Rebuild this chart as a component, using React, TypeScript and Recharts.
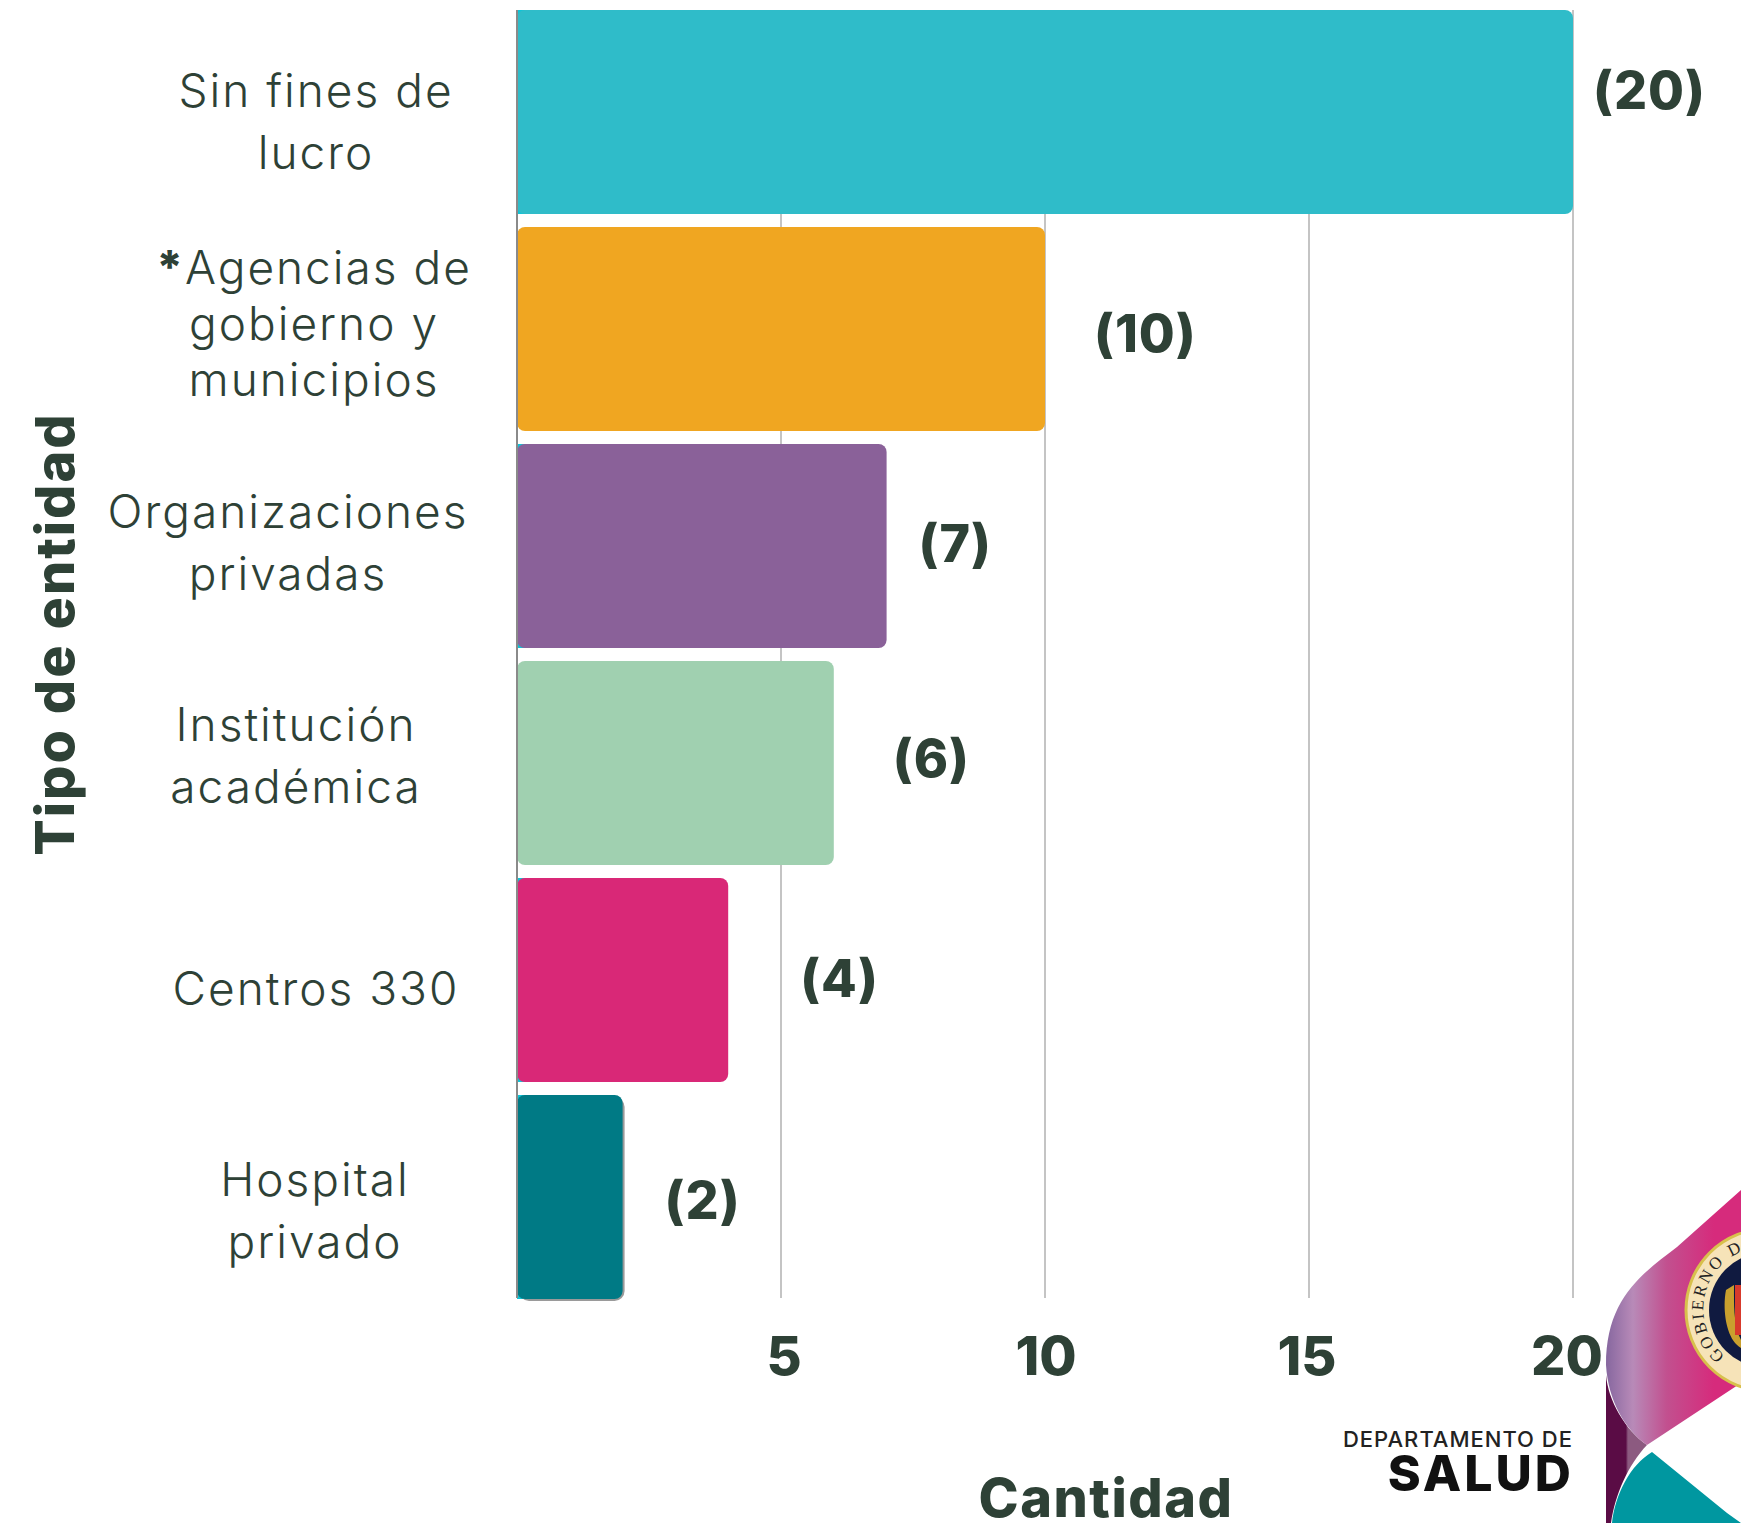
import React from 'react';
import { BarChart, Bar, XAxis, YAxis, CartesianGrid, Cell, LabelList, Label, Rectangle, Customized } from 'recharts';

const categories = ['Sin fines de|lucro', '*Agencias de|gobierno y|municipios', 'Organizaciones|privadas', 'Institución|académica', 'Centros 330', 'Hospital|privado'];
const cantidad = [20, 10, 7, 6, 4, 2];
const barColors = ['#2fbcc9', '#f0a621', '#8a6199', '#a0d0b0', '#d92877', '#007a85'];
const xTicks = [5, 10, 15, 20];

const chartData = categories.map((name, i) => ({ name, cantidad: cantidad[i] }));

const INK = '#2e4136';
const FONT = 'Inter, "Open Sans", sans-serif';

// the original places these by hand, so they don't sit exactly on the bands
const tickNudge = [[-59, 10], [-61, -5], [-87, -3], [-79, -7], [-59, 9], [-60, 14]];
const labelNudge = [[20, -22], [49, 4], [32, -3], [59, -5], [72, -2], [42, 3]];
const xTickNudge = [3, 1, -2, -6];

function CategoryTick({ y, payload, index }: any) {
  const lines: string[] = payload.value.split('|');
  const lineHeight = lines.length > 2 ? 56 : 62;
  const [dx, dy] = tickNudge[index] ?? [0, 0];
  const cx = 375 + dx;
  const startY = y + dy - ((lines.length - 1) * lineHeight) / 2 + 16;
  return (
    <text x={cx} y={startY} textAnchor="middle" fontFamily={FONT} fontWeight={300} fontSize={46} letterSpacing={2} fill={INK}>
      {lines.map((line, i) => (
        <tspan key={line} x={cx} y={startY + i * lineHeight}>
          {line.startsWith('*') ? <><tspan fontWeight={800}>*</tspan>{line.slice(1)}</> : line}
        </tspan>
      ))}
    </text>
  );
}

function ValueTick({ x, y, payload, index }: any) {
  return (
    <text x={x + xTickNudge[index]} y={y + 71} textAnchor="middle" fontFamily={FONT} fontWeight={800} fontSize={54} fill={INK}>
      {payload.value}
    </text>
  );
}

function ValueLabel({ x, y, width, height, value, index }: any) {
  const [dx, dy] = labelNudge[index];
  return (
    <text x={x + width + dx} y={y + height / 2 + dy + 19} fontFamily={FONT} fontWeight={800} fontSize={52} letterSpacing={1} fill={INK}>
      ({value})
    </text>
  );
}

function RoundedBar(props: any) {
  const { x, y, width, height, fill, index } = props;
  return (
    <g>
      {index !== 1 && index !== 3 && <rect x={x} y={y} width={10} height={height} fill="#10c4d6" />}
      {index === 5 && <Rectangle x={x + 2} y={y + 2} width={width} height={height} radius={10} fill="#9a9a9a" />}
      <Rectangle x={x} y={y} width={width} height={height} radius={8} fill={fill} />
    </g>
  );
}

function Logo() {
  return (
    <g>
      <defs>
        <linearGradient id="ribbon" x1="1606" x2="1741" y1="0" y2="0" gradientUnits="userSpaceOnUse">
          <stop offset="0" stopColor="#86679f" />
          <stop offset="0.2" stopColor="#b88ab8" />
          <stop offset="0.45" stopColor="#c2508f" />
          <stop offset="0.8" stopColor="#d62b7c" />
        </linearGradient>
        <linearGradient id="fold" x1="1606" x2="1650" y1="0" y2="0" gradientUnits="userSpaceOnUse">
          <stop offset="0.45" stopColor="#5a0c45" />
          <stop offset="0.5" stopColor="#8c5a80" />
          <stop offset="1" stopColor="#8c5a80" />
        </linearGradient>
        <path id="sealArc" d="M1725 1356 A62 62 0 0 1 1800 1257.5" fill="none" />
      </defs>
      <path d="M1606 1375 L1606 1523 L1611 1523 C1615 1495 1628 1465 1647 1445 C1625 1430 1608 1400 1606 1375 Z" fill="url(#fold)" />
      <path d="M1741 1190 L1677 1247 C1640 1275 1606 1300 1606 1365 C1608 1400 1625 1430 1647 1445 L1741 1383 Z" fill="url(#ribbon)" />
      <path d="M1652 1452 C1630 1465 1615 1495 1612 1523 L1741 1523 L1727 1513 Z" fill="#0097a0" />
      <circle cx="1767" cy="1310" r="81" fill="#f6e3b8" stroke="#d8c04c" strokeWidth="3" />
      <circle cx="1767" cy="1310" r="58" fill="#101a40" />
      <text fontFamily="'Liberation Serif', serif" fontSize="17" fill="#222" letterSpacing="2.5">
        <textPath href="#sealArc">GOBIERNO DE</textPath>
      </text>
      <path d="M1726 1290 C1722 1310 1726 1345 1746 1350 L1741 1340 C1733 1325 1734 1300 1734 1285 Z" fill="#c9a02e" />
      <rect x="1735" y="1285" width="6" height="50" fill="#d83a2c" />
      <text x="1573" y="1447" textAnchor="end" fontFamily={FONT} fontWeight={500} fontSize={22} letterSpacing={1} fill="#222">DEPARTAMENTO DE</text>
      <text x="1574" y="1491" textAnchor="end" fontFamily={FONT} fontWeight={800} fontSize={50} letterSpacing={3} fill="#111">SALUD</text>
    </g>
  );
}

export default function App() {
  return (
    <div style={{ position: 'absolute', left: 0, top: 0, width: 1741, height: 1523, overflow: 'hidden', background: '#fff' }}>
      <BarChart
        width={1741}
        height={1523}
        data={chartData}
        layout="vertical"
        margin={{ top: 10, right: 168, bottom: 0, left: 0 }}
        barSize={204}
      >
        <CartesianGrid horizontal={false} stroke="#c4c4c4" strokeWidth={2} verticalValues={xTicks} />
        <XAxis
          type="number"
          domain={[0, 20]}
          ticks={xTicks}
          height={225}
          axisLine={false}
          tickLine={false}
          tickMargin={0}
          tick={<ValueTick />}
        >
          <Label
            value="Cantidad"
            position="insideBottom"
            offset={6}
            dx={61}
            style={{ fontFamily: FONT, fontWeight: 800, fontSize: 54, letterSpacing: 1.5, fill: INK }}
          />
        </XAxis>
        <YAxis
          type="category"
          dataKey="name"
          width={517}
          interval={0}
          padding={{ top: -7, bottom: -7 }}
          axisLine={{ stroke: '#8a8a8a', strokeWidth: 2 }}
          tickLine={false}
          tick={<CategoryTick />}
        >
          <Label
            value="Tipo de entidad"
            angle={-90}
            position="insideLeft"
            offset={55}
            dy={-20}
            style={{ textAnchor: 'middle', fontFamily: FONT, fontWeight: 800, fontSize: 54, letterSpacing: 2, fill: INK }}
          />
        </YAxis>
        <Bar dataKey="cantidad" isAnimationActive={false} shape={<RoundedBar />}>
          {chartData.map((d, i) => (
            <Cell key={d.name} fill={barColors[i]} />
          ))}
          <LabelList dataKey="cantidad" content={<ValueLabel />} />
        </Bar>
        <Customized component={<Logo />} />
      </BarChart>
    </div>
  );
}
